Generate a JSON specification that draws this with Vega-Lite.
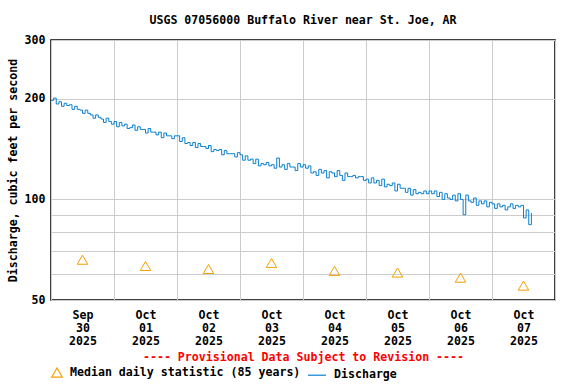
{
"$schema":"https://vega.github.io/schema/vega-lite/v6.json",
"width":504,"height":260,
"autosize":{"type":"none"},
"padding":{"left":51,"top":40,"right":21,"bottom":84},
"background":"white",
"title":{"text":"USGS 07056000 Buffalo River near St. Joe, AR","font":"DejaVu Sans Mono","fontWeight":"bold","fontSize":11.6,"color":"black","offset":7,"anchor":"middle"},
"datasets":{
"dis":[
{"t":"2025-09-30T00:00","q":198},{"t":"2025-09-30T01:00","q":201},{"t":"2025-09-30T02:00","q":193},{"t":"2025-09-30T03:00","q":196},{"t":"2025-09-30T04:00","q":190},{"t":"2025-09-30T05:00","q":194},{"t":"2025-09-30T06:00","q":191},{"t":"2025-09-30T07:00","q":192},{"t":"2025-09-30T08:00","q":186},{"t":"2025-09-30T09:00","q":190},{"t":"2025-09-30T10:00","q":186},{"t":"2025-09-30T11:00","q":185},{"t":"2025-09-30T12:00","q":181},{"t":"2025-09-30T13:00","q":185},{"t":"2025-09-30T14:00","q":181},{"t":"2025-09-30T15:00","q":179},{"t":"2025-09-30T16:00","q":175},{"t":"2025-09-30T17:00","q":179},{"t":"2025-09-30T18:00","q":176},{"t":"2025-09-30T19:00","q":174},{"t":"2025-09-30T20:00","q":170},{"t":"2025-09-30T21:00","q":175},{"t":"2025-09-30T22:00","q":171},{"t":"2025-09-30T23:00","q":168},
{"t":"2025-10-01T00:00","q":171},{"t":"2025-10-01T01:00","q":165},{"t":"2025-10-01T02:00","q":170},{"t":"2025-10-01T03:00","q":166},{"t":"2025-10-01T04:00","q":168},{"t":"2025-10-01T05:00","q":163},{"t":"2025-10-01T06:00","q":164},{"t":"2025-10-01T07:00","q":167},{"t":"2025-10-01T08:00","q":161},{"t":"2025-10-01T09:00","q":165},{"t":"2025-10-01T10:00","q":162},{"t":"2025-10-01T11:00","q":162},{"t":"2025-10-01T12:00","q":158},{"t":"2025-10-01T13:00","q":163},{"t":"2025-10-01T14:00","q":159},{"t":"2025-10-01T15:00","q":159},{"t":"2025-10-01T16:00","q":156},{"t":"2025-10-01T17:00","q":159},{"t":"2025-10-01T18:00","q":153},{"t":"2025-10-01T19:00","q":158},{"t":"2025-10-01T20:00","q":155},{"t":"2025-10-01T21:00","q":155},{"t":"2025-10-01T22:00","q":152},{"t":"2025-10-01T23:00","q":155},
{"t":"2025-10-02T00:00","q":155},{"t":"2025-10-02T01:00","q":149},{"t":"2025-10-02T02:00","q":153},{"t":"2025-10-02T03:00","q":147},{"t":"2025-10-02T04:00","q":148},{"t":"2025-10-02T05:00","q":145},{"t":"2025-10-02T06:00","q":148},{"t":"2025-10-02T07:00","q":143},{"t":"2025-10-02T08:00","q":147},{"t":"2025-10-02T09:00","q":144},{"t":"2025-10-02T10:00","q":144},{"t":"2025-10-02T11:00","q":142},{"t":"2025-10-02T12:00","q":145},{"t":"2025-10-02T13:00","q":139},{"t":"2025-10-02T14:00","q":141},{"t":"2025-10-02T15:00","q":140},{"t":"2025-10-02T16:00","q":141},{"t":"2025-10-02T17:00","q":136},{"t":"2025-10-02T18:00","q":140},{"t":"2025-10-02T19:00","q":137},{"t":"2025-10-02T20:00","q":137},{"t":"2025-10-02T21:00","q":137},{"t":"2025-10-02T22:00","q":134},{"t":"2025-10-02T23:00","q":138},
{"t":"2025-10-03T00:00","q":136},{"t":"2025-10-03T01:00","q":131},{"t":"2025-10-03T02:00","q":135},{"t":"2025-10-03T03:00","q":131},{"t":"2025-10-03T04:00","q":132},{"t":"2025-10-03T05:00","q":128},{"t":"2025-10-03T06:00","q":132},{"t":"2025-10-03T07:00","q":126},{"t":"2025-10-03T08:00","q":128},{"t":"2025-10-03T09:00","q":127},{"t":"2025-10-03T10:00","q":129},{"t":"2025-10-03T11:00","q":126},{"t":"2025-10-03T12:00","q":127},{"t":"2025-10-03T13:00","q":124},{"t":"2025-10-03T14:00","q":133},{"t":"2025-10-03T15:00","q":125},{"t":"2025-10-03T16:00","q":127},{"t":"2025-10-03T17:00","q":123},{"t":"2025-10-03T18:00","q":128},{"t":"2025-10-03T19:00","q":125},{"t":"2025-10-03T20:00","q":125},{"t":"2025-10-03T21:00","q":122},{"t":"2025-10-03T22:00","q":128},{"t":"2025-10-03T23:00","q":125},
{"t":"2025-10-04T00:00","q":127},{"t":"2025-10-04T01:00","q":124},{"t":"2025-10-04T02:00","q":126},{"t":"2025-10-04T03:00","q":120},{"t":"2025-10-04T04:00","q":121},{"t":"2025-10-04T05:00","q":118},{"t":"2025-10-04T06:00","q":123},{"t":"2025-10-04T07:00","q":120},{"t":"2025-10-04T08:00","q":122},{"t":"2025-10-04T09:00","q":116},{"t":"2025-10-04T10:00","q":121},{"t":"2025-10-04T11:00","q":120},{"t":"2025-10-04T12:00","q":117},{"t":"2025-10-04T13:00","q":122},{"t":"2025-10-04T14:00","q":118},{"t":"2025-10-04T15:00","q":114},{"t":"2025-10-04T16:00","q":120},{"t":"2025-10-04T17:00","q":117},{"t":"2025-10-04T18:00","q":117},{"t":"2025-10-04T19:00","q":118},{"t":"2025-10-04T20:00","q":116},{"t":"2025-10-04T21:00","q":117},{"t":"2025-10-04T22:00","q":117},{"t":"2025-10-04T23:00","q":114},
{"t":"2025-10-05T00:00","q":115},{"t":"2025-10-05T01:00","q":112},{"t":"2025-10-05T02:00","q":116},{"t":"2025-10-05T03:00","q":112},{"t":"2025-10-05T04:00","q":114},{"t":"2025-10-05T05:00","q":110},{"t":"2025-10-05T06:00","q":115},{"t":"2025-10-05T07:00","q":109},{"t":"2025-10-05T08:00","q":111},{"t":"2025-10-05T09:00","q":110},{"t":"2025-10-05T10:00","q":112},{"t":"2025-10-05T11:00","q":106},{"t":"2025-10-05T12:00","q":111},{"t":"2025-10-05T13:00","q":108},{"t":"2025-10-05T14:00","q":108},{"t":"2025-10-05T15:00","q":105},{"t":"2025-10-05T16:00","q":108},{"t":"2025-10-05T17:00","q":103},{"t":"2025-10-05T18:00","q":107},{"t":"2025-10-05T19:00","q":104},{"t":"2025-10-05T20:00","q":105},{"t":"2025-10-05T21:00","q":104},{"t":"2025-10-05T22:00","q":106},{"t":"2025-10-05T23:00","q":104},
{"t":"2025-10-06T00:00","q":106},{"t":"2025-10-06T01:00","q":104},{"t":"2025-10-06T02:00","q":106},{"t":"2025-10-06T03:00","q":102},{"t":"2025-10-06T04:00","q":105},{"t":"2025-10-06T05:00","q":100},{"t":"2025-10-06T06:00","q":104},{"t":"2025-10-06T07:00","q":101},{"t":"2025-10-06T08:00","q":100},{"t":"2025-10-06T09:00","q":103},{"t":"2025-10-06T10:00","q":99},{"t":"2025-10-06T11:00","q":104},{"t":"2025-10-06T12:00","q":100},{"t":"2025-10-06T13:00","q":90},{"t":"2025-10-06T14:00","q":103},{"t":"2025-10-06T15:00","q":99},{"t":"2025-10-06T16:00","q":98},{"t":"2025-10-06T17:00","q":101},{"t":"2025-10-06T18:00","q":96},{"t":"2025-10-06T19:00","q":99},{"t":"2025-10-06T20:00","q":97},{"t":"2025-10-06T21:00","q":99},{"t":"2025-10-06T22:00","q":95},{"t":"2025-10-06T23:00","q":98},
{"t":"2025-10-07T00:00","q":97},{"t":"2025-10-07T01:00","q":94},{"t":"2025-10-07T02:00","q":97},{"t":"2025-10-07T03:00","q":95},{"t":"2025-10-07T04:00","q":96},{"t":"2025-10-07T05:00","q":93},{"t":"2025-10-07T06:00","q":95},{"t":"2025-10-07T07:00","q":97},{"t":"2025-10-07T08:00","q":94},{"t":"2025-10-07T09:00","q":96},{"t":"2025-10-07T10:00","q":95},{"t":"2025-10-07T11:00","q":96},{"t":"2025-10-07T12:00","q":88},{"t":"2025-10-07T13:00","q":93},{"t":"2025-10-07T14:00","q":84},{"t":"2025-10-07T15:00","q":91}
],
"med":[
{"t":"2025-09-30T12:00","q":66},{"t":"2025-10-01T12:00","q":63.2},{"t":"2025-10-02T12:00","q":61.9},{"t":"2025-10-03T12:00","q":64.5},{"t":"2025-10-04T12:00","q":61.1},{"t":"2025-10-05T12:00","q":60.4},{"t":"2025-10-06T12:00","q":58.3},{"t":"2025-10-07T12:00","q":55.2}
]
},
"layer":[
{"data":{"name":"dis"},
 "mark":{"type":"line","interpolate":"step-after","strokeWidth":1,"clip":true},
 "encoding":{
  "x":{"field":"t","type":"temporal"},
  "y":{"field":"q","type":"quantitative"},
  "color":{"datum":"Discharge","title":null,"scale":{"domain":["Median daily statistic (85 years)","Discharge"],"range":["#f5a000","#0a7fd0"]}}
 }},
{"data":{"name":"med"},
 "mark":{"type":"point","filled":false,"strokeWidth":1,"opacity":1},
 "encoding":{
  "x":{"field":"t","type":"temporal"},
  "y":{"field":"q","type":"quantitative"},
  "color":{"datum":"Median daily statistic (85 years)","title":null},
  "shape":{"datum":"Median daily statistic (85 years)","title":null,"scale":{"domain":["Median daily statistic (85 years)","Discharge"],"range":["triangle-up","stroke"]}},
  "size":{"datum":"Median daily statistic (85 years)","title":null,"scale":{"type":"ordinal","domain":["Median daily statistic (85 years)","Discharge"],"range":[110,324]}}
 }}
],
"resolve":{"scale":{"color":"shared","shape":"shared"}},
"encoding":{
 "x":{"field":"t","type":"temporal",
  "scale":{"domain":[{"year":2025,"month":"sep","date":30},{"year":2025,"month":"oct","date":8}]},
  "axis":{"title":"---- Provisional Data Subject to Revision ----","titleColor":"#ff0000","titleFontSize":11.6,"titleFontWeight":"bold","titleFont":"DejaVu Sans Mono","titlePadding":5,
   "values":[{"year":2025,"month":"sep","date":30},{"year":2025,"month":"oct","date":1},{"year":2025,"month":"oct","date":2},{"year":2025,"month":"oct","date":3},{"year":2025,"month":"oct","date":4},{"year":2025,"month":"oct","date":5},{"year":2025,"month":"oct","date":6},{"year":2025,"month":"oct","date":7},{"year":2025,"month":"oct","date":8}],
   "labelExpr":"month(datum.value)==9 && date(datum.value)==8 ? '' : [timeFormat(datum.value,'%b'), timeFormat(datum.value,'%d'), timeFormat(datum.value,'%Y')]",
   "labelOffset":31.5,"labelAngle":0,"labelAlign":"center","labelBaseline":"top","labelLineHeight":13,"labelPadding":9,
   "labelFont":"DejaVu Sans Mono","labelFontWeight":"bold","labelFontSize":11.6,"labelColor":"black",
   "labelOverlap":false,"labelFlush":false,"labelBound":false,
   "ticks":false,"domain":false,"grid":true,"gridColor":"#cccccc","gridWidth":1}
 },
 "y":{"field":"q","type":"quantitative",
  "scale":{"type":"log","domain":[50,300],"nice":false},
  "axis":{"title":"Discharge, cubic feet per second","titleFont":"DejaVu Sans Mono","titleFontWeight":"bold","titleFontSize":11.6,"titleColor":"black","titlePadding":6,
   "values":[50,60,70,80,90,100,200,300],"format":"d",
   "labelExpr":"(datum.value==50||datum.value==100||datum.value==200||datum.value==300) ? datum.label : ''",
   "labelFont":"DejaVu Sans Mono","labelFontWeight":"bold","labelFontSize":11.6,"labelColor":"black","labelPadding":6,"labelOverlap":false,"labelFlush":false,
   "ticks":false,"domain":false,"grid":true,"gridColor":"#cccccc","gridWidth":1}
 }
},
"config":{
 "view":{"stroke":"black","strokeWidth":1.5},
 "legend":{"orient":"none","legendX":0,"legendY":325,"direction":"horizontal","title":null,"labelFont":"DejaVu Sans Mono","labelFontWeight":"bold","labelFontSize":11.6,"labelColor":"black","labelLimit":400,"symbolStrokeWidth":1.2,"columnPadding":4,"labelOffset":7}
}
}
